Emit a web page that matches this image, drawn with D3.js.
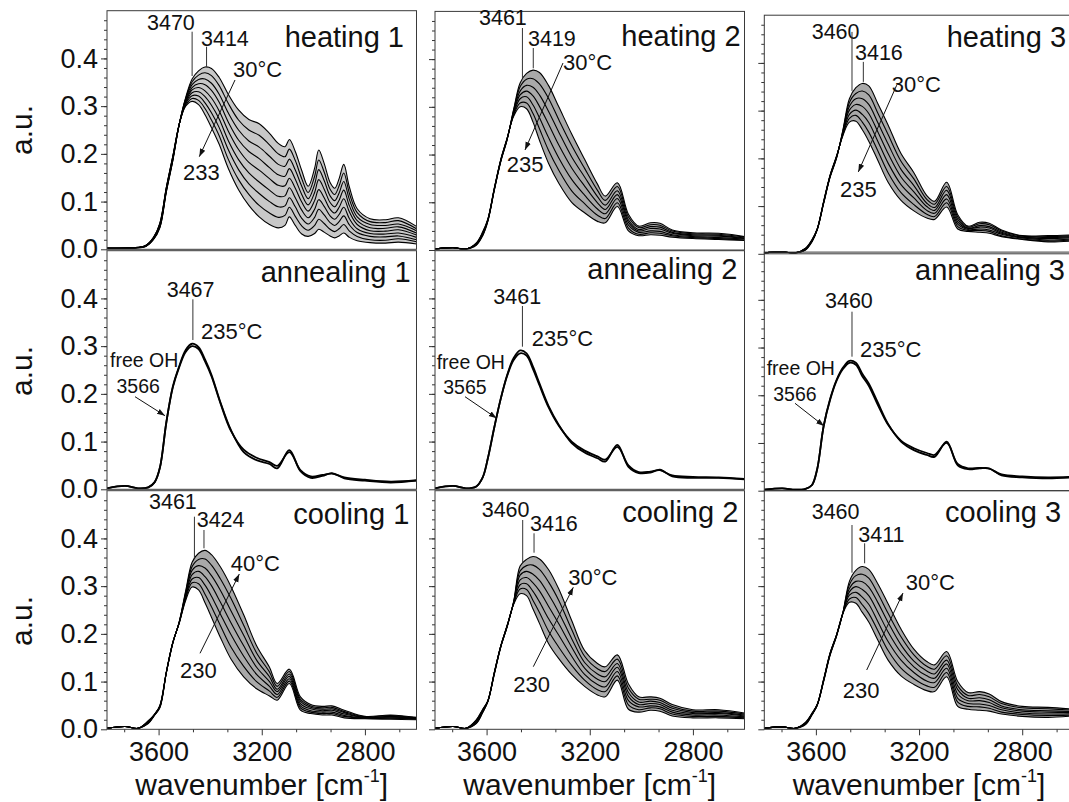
<!DOCTYPE html>
<html>
<head>
<meta charset="utf-8">
<script src="https://cdn.jsdelivr.net/npm/d3@7"></script>
<style>
  body { margin: 0; background: #fff; }
  svg { font-family: "Liberation Sans", Arial, Helvetica, sans-serif; }
</style>
</head>
<body>
<svg id="chart" width="1069" height="802"></svg>
<script>
// wavenumber grids [cm-1]
const wnFine = [3800,3700,3650,3620,3595,3570,3545,3520,3495,3470,3445,3420,3395,3365,3330,3290,3250,3210,3170,3136,3110,3093,3070,3045,3020,2995,2979,2958,2935,2917,2900,2882,2860,2830,2780,2720,2670,2600];
const wnCoarse = [3800,3730,3680,3640,3615,3595,3570,3545,3520,3495,3470,3445,3420,3395,3360,3320,3270,3220,3170,3140,3093,3050,3010,2965,2928,2880,2800,2700,2600];

// heating 1, 30 °C (top) ... 233 °C (bottom), on wnFine
const heating1 = [
  [.002,.003,.006,.02,.045,.12,.185,.262,.318,.357,.374,.382,.379,.36,.325,.292,.272,.263,.243,.222,.215,.23,.205,.165,.132,.17,.208,.18,.14,.128,.148,.178,.13,.085,.064,.062,.066,.048],
  [.002,.003,.006,.021,.046,.121,.186,.262,.316,.351,.365,.37,.364,.343,.306,.271,.25,.239,.219,.2,.194,.21,.186,.148,.119,.153,.187,.162,.126,.115,.133,.16,.117,.077,.058,.056,.06,.043],
  [.002,.003,.007,.021,.048,.123,.188,.262,.314,.345,.356,.357,.348,.325,.286,.25,.227,.214,.195,.178,.174,.189,.166,.132,.106,.136,.167,.144,.112,.102,.118,.142,.104,.068,.052,.05,.053,.039],
  [.002,.003,.007,.022,.049,.124,.189,.262,.311,.339,.347,.345,.333,.308,.267,.229,.205,.19,.171,.156,.153,.169,.147,.115,.093,.119,.146,.126,.098,.089,.103,.124,.091,.06,.045,.044,.047,.034],
  [.002,.003,.007,.022,.05,.125,.19,.262,.309,.334,.339,.332,.317,.29,.248,.209,.182,.166,.148,.134,.133,.149,.128,.099,.08,.102,.125,.108,.084,.076,.088,.106,.078,.052,.039,.038,.041,.03],
  [.002,.003,.007,.023,.051,.126,.191,.262,.307,.328,.33,.32,.302,.273,.228,.188,.16,.141,.124,.111,.112,.129,.108,.082,.066,.084,.104,.09,.07,.063,.073,.088,.064,.043,.033,.032,.034,.025],
  [.002,.003,.008,.024,.053,.128,.193,.262,.305,.322,.321,.307,.286,.255,.209,.167,.137,.117,.1,.089,.091,.108,.089,.065,.053,.067,.084,.072,.056,.05,.058,.07,.051,.035,.027,.026,.028,.02],
  [.002,.003,.008,.024,.054,.129,.194,.262,.302,.316,.312,.295,.271,.238,.189,.146,.115,.092,.076,.067,.071,.088,.069,.049,.04,.05,.063,.054,.042,.037,.043,.052,.038,.027,.02,.019,.022,.016],
  [.002,.003,.008,.025,.055,.13,.195,.262,.3,.31,.303,.282,.255,.22,.17,.125,.092,.068,.052,.045,.05,.068,.05,.032,.027,.033,.042,.036,.028,.024,.028,.034,.025,.018,.014,.013,.015,.011]
];

// heating 2, 30 °C ... 235 °C, on wnCoarse
const heating2 = [
  [.002,.005,.002,.01,.03,.06,.125,.185,.232,.295,.35,.37,.377,.372,.345,.3,.243,.19,.138,.113,.141,.075,.05,.057,.056,.042,.036,.035,.028],
  [.002,.005,.002,.011,.031,.061,.126,.186,.232,.293,.342,.358,.359,.348,.318,.273,.219,.171,.125,.104,.133,.069,.047,.053,.052,.04,.034,.033,.027],
  [.002,.005,.002,.012,.033,.062,.127,.187,.233,.29,.333,.345,.341,.325,.291,.247,.195,.153,.112,.094,.124,.063,.043,.049,.048,.037,.032,.031,.025],
  [.002,.005,.002,.013,.034,.063,.128,.188,.234,.288,.325,.333,.323,.301,.264,.22,.172,.134,.099,.085,.116,.058,.04,.045,.044,.035,.03,.029,.024],
  [.002,.005,.002,.013,.035,.063,.128,.188,.234,.285,.317,.321,.304,.277,.236,.193,.148,.115,.086,.076,.108,.052,.037,.04,.039,.032,.028,.026,.023],
  [.002,.005,.002,.014,.037,.064,.129,.189,.235,.283,.308,.308,.286,.254,.209,.167,.124,.097,.073,.066,.099,.046,.033,.036,.035,.03,.026,.024,.021],
  [.002,.005,.002,.015,.038,.065,.13,.19,.235,.28,.3,.296,.268,.23,.182,.14,.1,.078,.06,.057,.091,.04,.03,.032,.031,.027,.024,.022,.02]
];

// heating 3, 30 °C ... 235 °C
const heating3 = [
  [.002,.004,.002,.008,.025,.05,.105,.16,.2,.26,.325,.348,.357,.352,.315,.27,.21,.17,.122,.11,.15,.082,.058,.066,.064,.05,.038,.038,.04],
  [.002,.004,.002,.009,.026,.05,.106,.161,.201,.258,.317,.336,.341,.333,.295,.25,.194,.157,.114,.104,.141,.077,.056,.063,.061,.048,.037,.036,.038],
  [.002,.004,.002,.009,.027,.051,.107,.162,.202,.256,.309,.325,.325,.313,.275,.23,.177,.143,.106,.097,.133,.072,.054,.059,.057,.045,.035,.034,.036],
  [.002,.004,.002,.01,.028,.051,.108,.163,.203,.254,.301,.313,.309,.294,.256,.21,.161,.13,.099,.091,.124,.067,.053,.056,.054,.043,.034,.032,.034],
  [.002,.004,.002,.011,.028,.051,.108,.163,.203,.252,.292,.301,.292,.275,.236,.19,.145,.117,.091,.085,.115,.062,.051,.052,.05,.041,.033,.029,.031],
  [.002,.004,.002,.011,.029,.052,.109,.164,.204,.25,.284,.29,.276,.255,.216,.17,.128,.103,.083,.078,.107,.057,.049,.049,.047,.038,.031,.027,.029],
  [.002,.004,.002,.012,.03,.052,.11,.165,.205,.248,.276,.278,.26,.236,.196,.15,.112,.09,.075,.072,.098,.052,.047,.045,.043,.036,.03,.025,.027]
];

// annealing at 235 °C, first and last spectrum
const annealing1 = [
  [.002,.007,.002,.004,.015,.045,.14,.215,.258,.292,.305,.298,.272,.24,.182,.125,.078,.061,.053,.044,.082,.038,.024,.028,.034,.023,.018,.014,.018],
  [.002,.007,.002,.004,.015,.045,.14,.213,.256,.288,.3,.294,.268,.237,.18,.123,.083,.066,.057,.049,.078,.04,.027,.03,.033,.025,.02,.016,.019]
];
const annealing2 = [
  [.002,.007,.002,.006,.025,.065,.13,.19,.24,.275,.291,.285,.257,.222,.175,.135,.097,.077,.065,.058,.093,.047,.034,.035,.041,.027,.024,.024,.021],
  [.002,.007,.002,.006,.025,.065,.13,.19,.238,.271,.285,.28,.252,.218,.172,.133,.1,.081,.069,.062,.089,.05,.036,.037,.04,.029,.026,.025,.022]
];
const annealing3 = [
  [.002,.005,.002,.004,.012,.045,.135,.192,.232,.258,.272,.268,.245,.225,.185,.14,.103,.085,.075,.071,.103,.053,.045,.047,.047,.032,.028,.026,.028],
  [.002,.005,.002,.004,.012,.045,.135,.19,.23,.255,.268,.264,.24,.22,.18,.138,.105,.089,.079,.075,.1,.056,.047,.048,.046,.034,.03,.028,.029]
];

// cooling 1, 230 °C ... 40 °C
const cooling1 = [
  [.002,.006,.002,.018,.032,.05,.12,.182,.222,.27,.298,.292,.265,.235,.192,.148,.11,.085,.07,.061,.096,.04,.033,.03,.03,.024,.022,.021,.02],
  [.002,.006,.002,.017,.032,.049,.12,.182,.223,.273,.307,.305,.283,.257,.217,.173,.132,.1,.08,.067,.101,.045,.036,.033,.033,.027,.023,.023,.021],
  [.002,.006,.002,.016,.031,.048,.119,.181,.223,.277,.315,.318,.302,.279,.241,.199,.153,.115,.09,.073,.106,.049,.039,.036,.036,.029,.024,.024,.022],
  [.002,.006,.002,.015,.031,.048,.119,.181,.224,.28,.324,.331,.32,.301,.266,.224,.175,.13,.1,.079,.111,.054,.043,.039,.04,.032,.025,.026,.023],
  [.002,.006,.002,.014,.031,.047,.119,.181,.224,.283,.333,.343,.338,.322,.291,.249,.197,.145,.11,.084,.116,.059,.046,.042,.043,.035,.025,.027,.023],
  [.002,.006,.002,.013,.03,.046,.118,.18,.225,.287,.341,.356,.357,.344,.315,.275,.218,.16,.12,.09,.121,.063,.049,.045,.046,.037,.026,.029,.024],
  [.002,.006,.002,.012,.03,.045,.118,.18,.225,.29,.35,.369,.375,.366,.34,.3,.24,.175,.13,.096,.126,.068,.052,.048,.049,.04,.027,.03,.025]
];

// cooling 2, 230 °C ... 30 °C
const cooling2 = [
  [.002,.006,.002,.02,.042,.06,.12,.175,.218,.262,.284,.28,.252,.222,.18,.148,.115,.09,.072,.068,.103,.042,.036,.04,.038,.028,.024,.024,.022],
  [.002,.006,.002,.019,.041,.06,.119,.175,.218,.263,.294,.293,.27,.245,.206,.172,.134,.103,.083,.079,.112,.051,.041,.045,.043,.032,.027,.027,.024],
  [.002,.006,.002,.017,.04,.059,.118,.174,.217,.264,.303,.305,.289,.267,.232,.197,.153,.115,.094,.089,.121,.06,.047,.049,.047,.036,.03,.03,.026],
  [.002,.006,.002,.016,.039,.059,.118,.174,.217,.265,.313,.318,.307,.29,.258,.221,.172,.128,.105,.1,.13,.069,.052,.054,.052,.04,.033,.033,.028],
  [.002,.006,.002,.015,.037,.059,.117,.173,.216,.266,.323,.331,.325,.312,.283,.245,.19,.14,.116,.11,.138,.077,.057,.059,.056,.044,.035,.035,.03],
  [.002,.006,.002,.013,.036,.058,.116,.173,.216,.267,.332,.343,.344,.335,.309,.27,.209,.153,.127,.121,.147,.086,.063,.063,.061,.048,.038,.038,.032],
  [.002,.006,.002,.012,.035,.058,.115,.172,.215,.268,.342,.356,.362,.357,.335,.294,.228,.165,.138,.131,.156,.095,.068,.068,.065,.052,.041,.041,.034]
];

// cooling 3, 230 °C ... 30 °C
const cooling3 = [
  [.002,.005,.002,.015,.034,.052,.105,.16,.198,.243,.266,.264,.245,.225,.187,.145,.112,.094,.081,.079,.11,.048,.042,.04,.038,.032,.027,.025,.028],
  [.002,.005,.002,.014,.033,.052,.104,.159,.198,.243,.273,.276,.261,.243,.207,.165,.128,.106,.091,.088,.119,.057,.048,.047,.044,.036,.031,.029,.03],
  [.002,.005,.002,.013,.033,.051,.103,.158,.197,.244,.281,.287,.277,.262,.226,.184,.145,.119,.101,.098,.128,.065,.054,.053,.05,.041,.034,.032,.033],
  [.002,.005,.002,.013,.032,.051,.103,.158,.197,.244,.288,.299,.293,.28,.246,.204,.161,.131,.112,.107,.137,.074,.06,.06,.056,.045,.038,.036,.035],
  [.002,.005,.002,.012,.031,.051,.102,.157,.196,.244,.295,.31,.309,.298,.266,.224,.177,.143,.122,.116,.145,.083,.065,.066,.062,.049,.041,.039,.037],
  [.002,.005,.002,.011,.031,.05,.101,.156,.196,.245,.303,.322,.325,.317,.285,.243,.194,.156,.132,.126,.154,.091,.071,.073,.068,.054,.045,.043,.04],
  [.002,.005,.002,.01,.03,.05,.1,.155,.195,.245,.31,.333,.341,.335,.305,.263,.21,.168,.142,.135,.163,.1,.077,.079,.074,.058,.048,.046,.042]
];

// labels
const panelTitles = [["heating 1","heating 2","heating 3"],["annealing 1","annealing 2","annealing 3"],["cooling 1","cooling 2","cooling 3"]];
const peaksHeating = [[3470, 3414], [3461, 3419], [3460, 3416]];
const peaksAnnealing = [3467, 3461, 3460];
const peaksCooling = [[3461, 3424], [3460, 3416], [3460, 3411]];
const freeOH = [3566, 3565, 3566];
const tempHeating = [["30°C", "233"], ["30°C", "235"], ["30°C", "235"]];
const tempAnnealing = ["235°C", "235°C", "235°C"];
const tempCooling = [["40°C", "230"], ["30°C", "230"], ["30°C", "230"]];
const yTicks = [0, 0.1, 0.2, 0.3, 0.4];
const xTicks = [3600, 3200, 2800];

// ---- layout ----
const colLeft = [107, 435, 764.3];
const zeroLine = [[249.3, 489.3, 729.3], [250, 489.3, 729.3], [253.8, 490.7, 729.3]]; // [col][row]
const panelW = 309.5, panelH = 238.6;
const auY = [130, 371, 621];
const bandFill = [["#c8c8c8", "#a9a9a9", "#a9a9a9"], [null, null, null], ["#a9a9a9", "#a9a9a9", "#a9a9a9"]];

// annotation offsets relative to panel top-left
const noteLayout = [
  [
    {title: [297, 36, "end"], pk: [[40, 19.3, 21, 65.3], [94, 35, 36, 56]], hi: [126, 66.6], lo: [76, 169.3], arrow: [128, 69.3, 92.3, 146]},
    {title: [305.7, 35, "end"], pk: [[44, 13.6, 16.6, 66.9], [93, 34.6, 36.6, 56.9]], hi: [128, 58.6], lo: [71.7, 160.3], arrow: [128, 51.6, 90, 138.6]},
    {title: [182.4, 32, "start"], pk: [[47.4, 23.3, 16.7, 75.7], [90.7, 45, 46.7, 66.7]], hi: [127.4, 76.7], lo: [75.7, 181.7], arrow: [132.4, 70, 94, 156.7]}
  ],
  [
    {title: [303.7, 31, "end"], pk: [[59.7, 46.6, 48.6, 89.3]], temp: [94, 88.3], free: [3, 116.6], arrow: [28, 146, 58, 165]},
    {title: [302.3, 28.6, "end"], pk: [[58.3, 53.3, 55.3, 96]], temp: [96.7, 95.3], free: [1.7, 118], arrow: [30, 146, 61.7, 167.6]},
    {title: [300.7, 27.9, "end"], pk: [[60.7, 56.2, 59.6, 104.6]], temp: [95.7, 104.6], free: [2.4, 122.9], arrow: [30.7, 151.2, 59.7, 173.9]}
  ],
  [
    {title: [302.3, 33.6, "end"], pk: [[42, 18.6, 26, 67.6], [89.7, 36, 39.3, 57.6]], hi: [123.7, 80], lo: [73, 187.6], arrow: [93, 162.6, 132.3, 83.3]},
    {title: [303.3, 31, "end"], pk: [[46.7, 26, 29.3, 72], [95, 40, 42.6, 62]], hi: [133.3, 94.3], lo: [78.3, 201], arrow: [98.3, 176, 138.3, 96.6]},
    {title: [180.7, 31, "start"], pk: [[47.4, 28.6, 34.3, 82], [94, 51, 52.6, 72.6]], hi: [141.4, 99.3], lo: [78.4, 207.6], arrow: [102.4, 179.3, 138.7, 102.3]}
  ]
];

const curvesGrid = [[heating1, heating2, heating3], [annealing1, annealing2, annealing3], [cooling1, cooling2, cooling3]];

const svg = d3.select("#chart");
const defs = svg.append("defs");
defs.append("marker").attr("id", "arrowHead")
    .attr("viewBox", "0 0 10 10").attr("refX", 10).attr("refY", 5)
    .attr("markerWidth", 8).attr("markerHeight", 8).attr("orient", "auto")
  .append("path").attr("d", "M0,1.5L10,5L0,8.5Z").attr("fill", "#111");

function styleAxis(sel, fontSize) {
  sel.select(".domain").remove();
  sel.selectAll(".tick line").attr("stroke", "#333");
  sel.selectAll(".tick text").attr("fill", "#111").style("font-size", fontSize + "px")
     .style("font-family", '"Liberation Sans", Arial, sans-serif');
}

for (let row = 0; row < 3; row++) {
  for (let col = 0; col < 3; col++) {
    const idx = row * 3 + col;
    const curves = curvesGrid[row][col];
    const wn = (row === 0 && col === 0) ? wnFine : wnCoarse;
    const left = colLeft[col], zero = zeroLine[col][row], top = zero - panelH;
    const x = d3.scaleLinear().domain([3800, 2600]).range([left, left + panelW]);
    const y = d3.scaleLinear().domain([0, 0.5]).range([zero, top]);
    const g = svg.append("g").attr("class", "panel");

    defs.append("clipPath").attr("id", "clip" + idx)
      .append("rect").attr("x", left).attr("y", top).attr("width", panelW).attr("height", panelH);
    const plot = g.append("g").attr("clip-path", `url(#clip${idx})`);

    const curve = d3.curveCatmullRom.alpha(0.5);
    if (bandFill[row][col]) {
      const band = d3.area()
        .x((d, j) => x(wn[j]))
        .y0(d => y(d[0])).y1(d => y(d[1]))
        .curve(curve);
      plot.append("path").datum(d3.zip(curves[0], curves[curves.length - 1]))
        .attr("d", band).attr("fill", bandFill[row][col]).attr("stroke", "none");
    }
    const line = d3.line().x((d, j) => x(wn[j])).y(d => y(d)).curve(curve);
    plot.selectAll("path.spec").data(curves).join("path")
      .attr("class", "spec").attr("d", line)
      .attr("fill", "none").attr("stroke", "#000")
      .attr("stroke-width", row === 1 ? 1.8 : 1.1);

    // y axis ticks
    const yMinor = d3.axisLeft(y).tickValues(d3.range(1, 25).map(k => k * 0.02)).tickSize(3).tickFormat("");
    g.append("g").attr("transform", `translate(${left},0)`).call(yMinor).call(styleAxis, 27);
    const yMajor = d3.axisLeft(y).tickValues(yTicks).tickSize(6).tickPadding(3)
      .tickFormat(col === 0 ? d3.format(".1f") : "");
    g.append("g").attr("transform", `translate(${left},0)`).call(yMajor).call(styleAxis, 27);

    if (row === 2) {
      const xMinor = d3.axisBottom(x).tickValues([3733.3, 3466.7, 3333.3, 3066.7, 2933.3, 2666.7]).tickSize(3).tickFormat("");
      g.append("g").attr("transform", `translate(0,${zero})`).call(xMinor).call(styleAxis, 27);
      const xMajor = d3.axisBottom(x).tickValues(xTicks).tickSize(6).tickPadding(7).tickFormat(d3.format("d"));
      g.append("g").attr("transform", `translate(0,${zero})`).call(xMajor).call(styleAxis, 27);
      const xl = g.append("text").attr("x", left + panelW / 2).attr("y", 795)
        .attr("text-anchor", "middle").style("font-size", "30px").attr("fill", "#111");
      xl.append("tspan").text("wavenumber [cm");
      xl.append("tspan").text("-1").style("font-size", "18px").attr("dy", -13);
      xl.append("tspan").text("]").attr("dy", 13);
    }

    g.append("rect").attr("x", left).attr("y", top).attr("width", panelW).attr("height", panelH)
      .attr("fill", "none").attr("stroke", "#3a3a3a").attr("stroke-width", 1);

    // annotations
    const L = noteLayout[row][col];
    const txt = (s, px, py, size, anchor) => g.append("text")
      .attr("x", left + px).attr("y", top + py).attr("text-anchor", anchor || "start")
      .style("font-size", size + "px").attr("fill", "#111").text(s);
    txt(panelTitles[row][col], L.title[0], L.title[1], 29, L.title[2]);

    const peaks = row === 0 ? peaksHeating[col] : row === 1 ? [peaksAnnealing[col]] : peaksCooling[col];
    peaks.forEach((w, k) => {
      const p = L.pk[k];
      txt(String(w), p[0], p[1], 21.5);
      g.append("line").attr("x1", x(w)).attr("x2", x(w))
        .attr("y1", top + p[2]).attr("y2", top + p[3])
        .attr("stroke", "#333").attr("stroke-width", 1);
    });

    if (row === 1) {
      txt(tempAnnealing[col], L.temp[0], L.temp[1], 22);
      txt("free OH", L.free[0], L.free[1], 19.5);
      txt(String(freeOH[col]), L.free[0] + 6.5, L.free[1] + 25.5, 19.5);
    } else {
      const t = row === 0 ? tempHeating[col] : tempCooling[col];
      txt(t[0], L.hi[0], L.hi[1], 22);
      txt(t[1], L.lo[0], L.lo[1], 22);
    }
    const a = L.arrow;
    g.append("line").attr("x1", left + a[0]).attr("y1", top + a[1])
      .attr("x2", left + a[2]).attr("y2", top + a[3])
      .attr("stroke", "#111").attr("stroke-width", 1)
      .attr("marker-end", "url(#arrowHead)");
  }
}

// y axis titles
auY.forEach(cy => {
  svg.append("text").attr("transform", `translate(31.5,${cy}) rotate(-90)`)
    .attr("text-anchor", "middle").style("font-size", "30px").attr("fill", "#111").text("a.u.");
});
</script>
</body>
</html>
